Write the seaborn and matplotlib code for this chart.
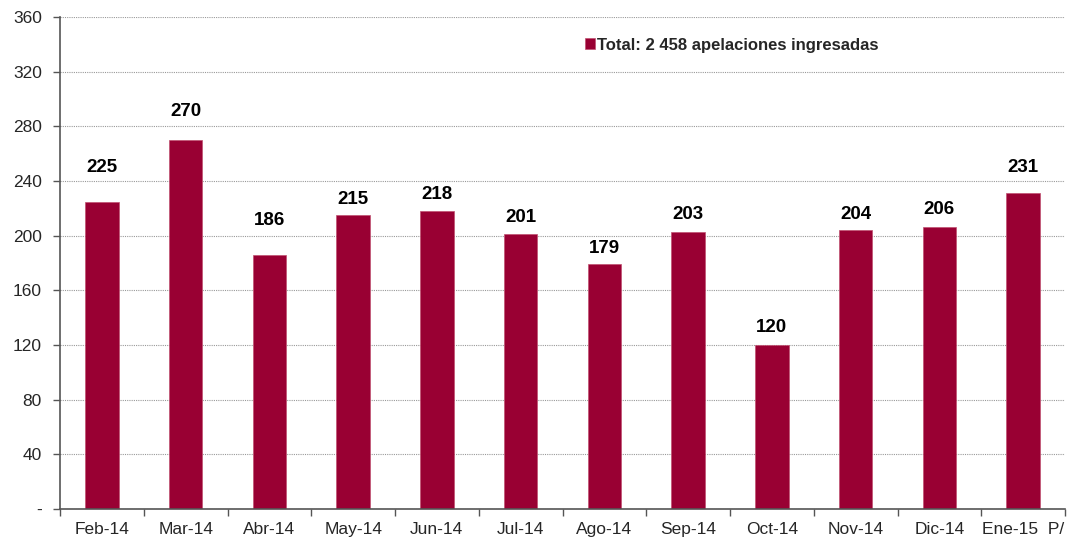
import matplotlib
matplotlib.use("Agg")
import matplotlib.pyplot as plt
import seaborn as sns
import pandas as pd
import numpy as np

categories = ["Feb-14", "Mar-14", "Abr-14", "May-14", "Jun-14", "Jul-14",
              "Ago-14", "Sep-14", "Oct-14", "Nov-14", "Dic-14", "Ene-15  P/"]
values = [225, 270, 186, 215, 218, 201, 179, 203, 120, 204, 206, 231]
legend_label = "Total: 2 458 apelaciones ingresadas"
y_ticks = [0, 40, 80, 120, 160, 200, 240, 280, 320, 360]
y_tick_labels = ["-", "40", "80", "120", "160", "200", "240", "280", "320", "360"]

# label offsets above bar tops (pixels), matching manual placement in reference
label_offsets_px = [34, 29, 34, 16, 17, 17, 16, 17, 17, 16, 18, 26]

sns.set_style("white")
plt.rcParams['font.family'] = ['Liberation Sans', 'DejaVu Sans']

df = pd.DataFrame({"cat": categories, "val": values})
bar_color = "#990033"

fig = plt.figure(figsize=(10.72, 5.39), dpi=100)
ax = fig.add_axes([60/1072, 30/539, (1065-60)/1072, (509-17)/539])

sns.barplot(data=df, x="cat", y="val", color=bar_color, width=0.4,
            saturation=1, ax=ax, label=legend_label, edgecolor="#c05070",
            linewidth=0.5)

ax.set_ylim(0, 360)
ax.set_xlim(-0.5, len(categories) - 0.5)
ax.set_yticks(y_ticks)
ax.set_yticklabels(y_tick_labels, fontsize=12.5)
ax.set_xlabel("")
ax.set_ylabel("")
ax.tick_params(axis='x', length=0, labelsize=12.5, pad=18)
for lbl in ax.get_xticklabels():
    lbl.set_verticalalignment("baseline")
ax.tick_params(axis='y', length=5, width=1, color="#555555", direction='out', pad=8, left=True)

# minor ticks between categories on x axis
ax.set_xticks(np.arange(-0.5, len(categories) + 0.5, 1), minor=True)
ax.tick_params(axis='x', which='minor', length=5, width=1, color="#555555", direction='out', bottom=True)

ax.yaxis.grid(True, linestyle=(0, (1, 1)), color="#999999", linewidth=0.8)
ax.set_axisbelow(True)

for s in ["top", "right"]:
    ax.spines[s].set_visible(False)
for s in ["left", "bottom"]:
    ax.spines[s].set_color("#555555")
    ax.spines[s].set_linewidth(1.2)

for i, (v, off) in enumerate(zip(values, label_offsets_px)):
    ax.annotate(str(v), xy=(i, v), xytext=(0, off * 0.72), textcoords="offset points",
                ha="center", va="center", fontsize=13.5, fontweight="bold", color="black")

leg = ax.legend(loc="center left", bbox_to_anchor=(0.522, 0.943), frameon=False,
                borderaxespad=0, borderpad=0,
                handlelength=0.6, handleheight=0.6, handletextpad=0.15,
                prop={'weight': 'bold', 'size': 12})

fig.savefig("out.png", dpi=100)
